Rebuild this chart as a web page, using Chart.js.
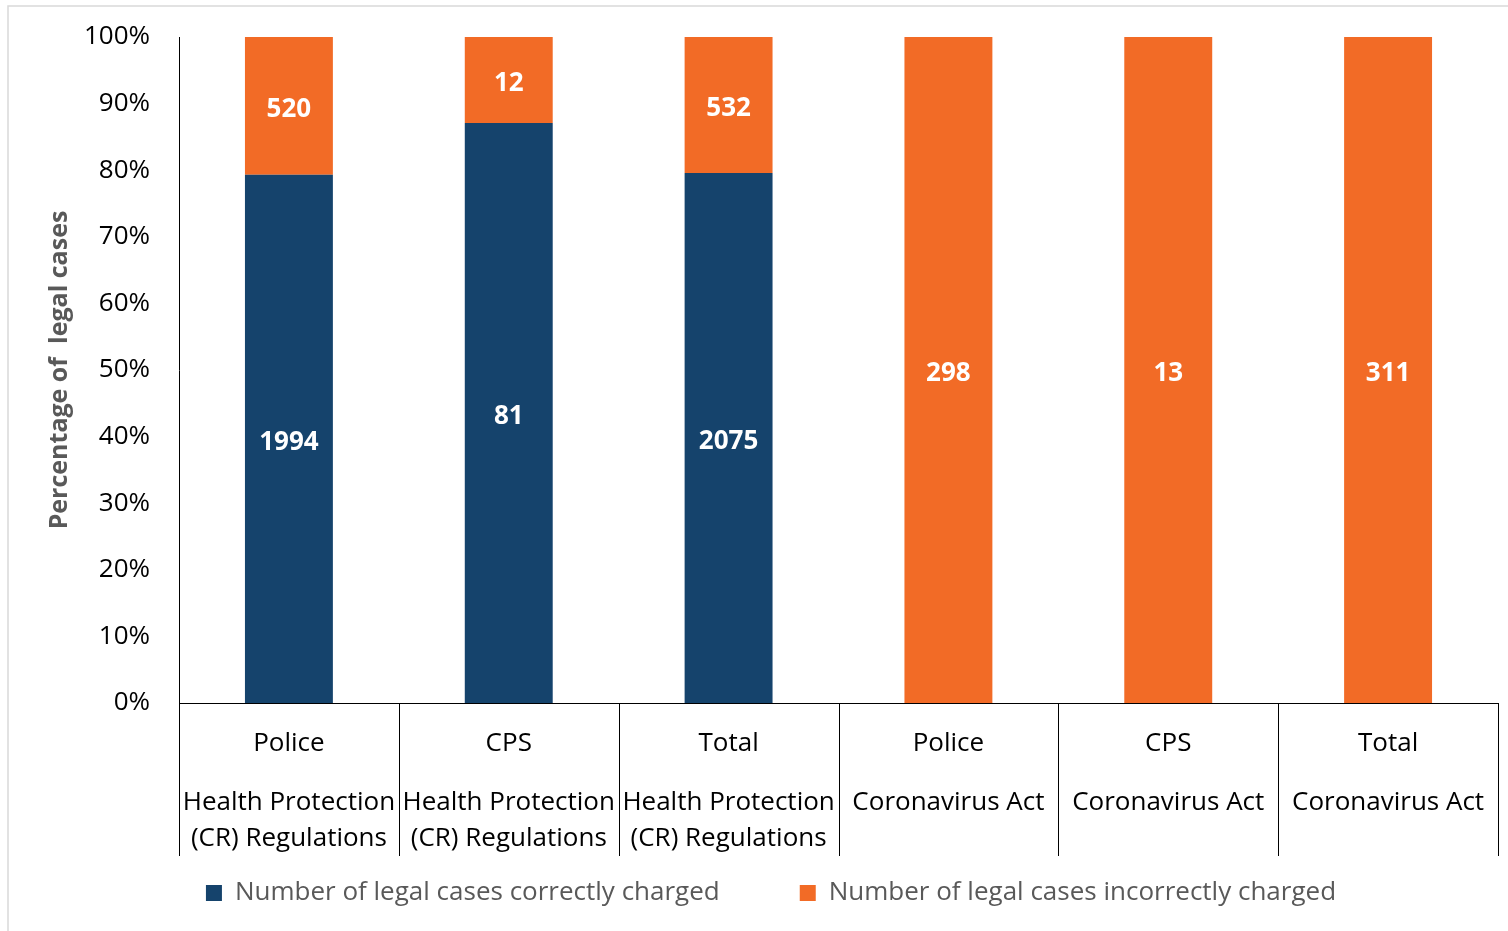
<!DOCTYPE html>
<html>
<head>
<meta charset="utf-8">
<script src="https://cdn.jsdelivr.net/npm/chart.js@4/dist/chart.umd.min.js"></script>
<style>
  html, body { margin: 0; padding: 0; background: #fff; }
  #wrap { width: 1508px; height: 931px; position: relative; }
</style>
</head>
<body>
<div id="wrap"><canvas id="c" width="1508" height="931"></canvas></div>
<script>
// ---- data ----
const categories = ['Police', 'CPS', 'Total', 'Police', 'CPS', 'Total'];
const groupLabels = [
  ['Health Protection', '(CR) Regulations'],
  ['Health Protection', '(CR) Regulations'],
  ['Health Protection', '(CR) Regulations'],
  'Coronavirus Act',
  'Coronavirus Act',
  'Coronavirus Act'
];
const correctCounts = [1994, 81, 2075, 0, 0, 0];
const incorrectCounts = [520, 12, 532, 298, 13, 311];
const seriesNames = ['Number of legal cases correctly charged', 'Number of legal cases incorrectly charged'];
const yTicks = [0, 10, 20, 30, 40, 50, 60, 70, 80, 90, 100];

// 100% stacking
const totals = correctCounts.map((c, i) => c + incorrectCounts[i]);
const correctPct = correctCounts.map((c, i) => c / totals[i] * 100);
const incorrectPct = incorrectCounts.map((c, i) => c / totals[i] * 100);
const countsBySeries = [correctCounts, incorrectCounts];

const BLUE = '#15436C';
const ORANGE = '#F26B26';
const FONT = "'Open Sans', 'Noto Sans', sans-serif";

const framePlugin = {
  id: 'frame',
  beforeDraw(chart) {
    const ctx = chart.ctx;
    ctx.save();
    ctx.strokeStyle = '#D9D9D9';
    ctx.lineWidth = 1.5;
    ctx.beginPath();
    ctx.moveTo(8, 940);
    ctx.lineTo(8, 6);
    ctx.lineTo(1520, 6);
    ctx.stroke();
    ctx.restore();
  }
};

// let the lower category labels extend down to the divider ends (avoid clipping)
const labelAreaPlugin = {
  id: 'labelArea',
  afterLayout(chart) {
    const s = chart.scales.x2;
    s.bottom = 858;
  }
};

const dividerPlugin = {
  id: 'dividers',
  afterDraw(chart) {
    const xs = chart.scales.x;
    const ctx = chart.ctx;
    const n = categories.length;
    const w = xs.width / n;
    const top = chart.chartArea.bottom;
    ctx.save();
    ctx.strokeStyle = '#000';
    ctx.lineWidth = 1;
    ctx.beginPath();
    for (let i = 0; i <= n; i++) {
      const x = Math.round(xs.left + i * w) + 0.5;
      ctx.moveTo(x, top);
      ctx.lineTo(x, 856);
    }
    ctx.stroke();
    ctx.restore();
  }
};

const valueLabelPlugin = {
  id: 'valueLabels',
  afterDatasetsDraw(chart) {
    const ctx = chart.ctx;
    ctx.save();
    ctx.fillStyle = '#fff';
    ctx.font = 'bold 26px ' + FONT;
    ctx.textAlign = 'center';
    ctx.textBaseline = 'middle';
    chart.data.datasets.forEach((ds, di) => {
      const meta = chart.getDatasetMeta(di);
      meta.data.forEach((bar, i) => {
        const count = countsBySeries[di][i];
        if (!count) return;
        const p = bar.getProps(['x', 'y', 'base'], true);
        ctx.fillText(String(count), p.x, (p.y + p.base) / 2 + 3.5);
      });
    });
    ctx.restore();
  }
};

function noPad(s) { s.paddingLeft = 0; s.paddingRight = 0; s.paddingTop = 0; s.paddingBottom = 0; }

new Chart(document.getElementById('c'), {
  type: 'bar',
  data: {
    labels: categories,
    datasets: [
      { label: seriesNames[0], data: correctPct, backgroundColor: BLUE, borderWidth: 0, categoryPercentage: 1, barPercentage: 0.4 },
      { label: seriesNames[1], data: incorrectPct, backgroundColor: ORANGE, borderWidth: 0, categoryPercentage: 1, barPercentage: 0.4 }
    ]
  },
  options: {
    responsive: false,
    animation: false,
    devicePixelRatio: 1,
    layout: { padding: { left: 44, right: 10, top: 37, bottom: 15 } },
    plugins: {
      tooltip: { enabled: false },
      legend: {
        position: 'bottom',
        labels: {
          boxWidth: 16,
          boxHeight: 16,
          padding: 80,
          color: '#595959',
          font: { family: FONT, size: 26 }
        }
      }
    },
    scales: {
      x: {
        stacked: true,
        weight: 1,
        offset: true,
        labels: categories,
        grid: { display: false, drawTicks: false, offset: true },
        border: { display: true, color: '#000', width: 1 },
        ticks: { color: '#000', padding: 25, maxRotation: 0, autoSkip: false, font: { family: FONT, size: 26 } },
        afterFit(s) { s.height = 54; noPad(s); }
      },
      x2: {
        type: 'category',
        position: 'bottom',
        weight: 2,
        offset: true,
        labels: groupLabels,
        grid: { display: false, drawTicks: false, offset: true },
        border: { display: false },
        ticks: { color: '#000', padding: 27, maxRotation: 0, autoSkip: false, font: { family: FONT, size: 26, lineHeight: 1.4 } },
        afterFit(s) { s.height = 43; noPad(s); }
      },
      y: {
        stacked: true,
        min: 0,
        max: 100,
        grid: { display: false, drawTicks: false },
        border: { display: true, color: '#000', width: 1 },
        afterBuildTicks(s) { s.ticks = yTicks.map(v => ({ value: v })); },
        ticks: {
          color: '#000',
          padding: 29,
          font: { family: FONT, size: 26 },
          callback: v => v + '%'
        },
        title: {
          display: true,
          text: 'Percentage of  legal cases',
          color: '#595959',
          padding: { top: 1, bottom: 0 },
          font: { family: FONT, size: 25, weight: 'bold' }
        },
        afterFit(s) { s.width = 135; noPad(s); }
      }
    }
  },
  plugins: [framePlugin, labelAreaPlugin, dividerPlugin, valueLabelPlugin]
});
</script>
</body>
</html>
